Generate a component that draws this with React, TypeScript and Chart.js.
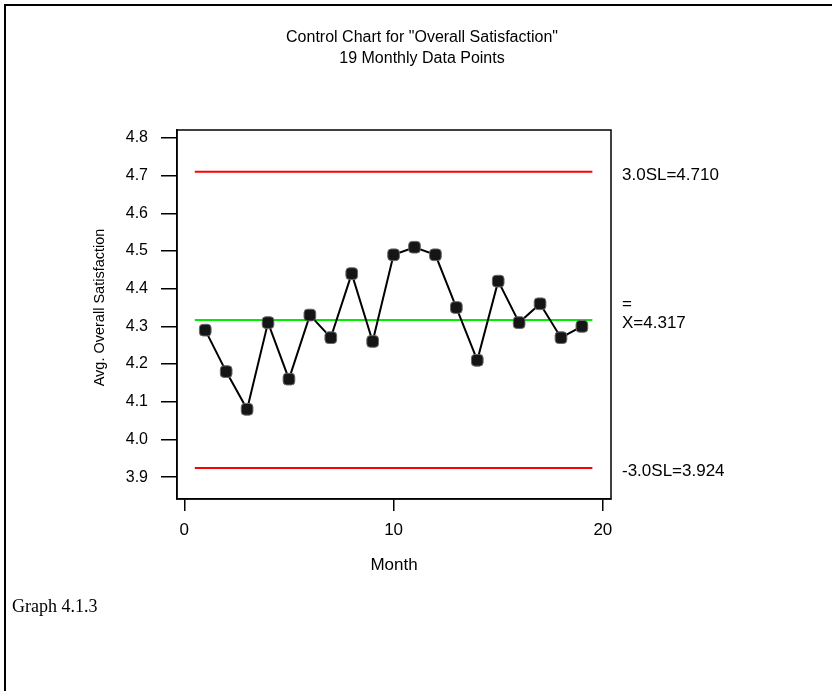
import React, { useEffect, useRef } from "react";
import { Chart, registerables } from "chart.js";

Chart.register(...registerables);

// ---- data ----
const months = [1, 2, 3, 4, 5, 6, 7, 8, 9, 10, 11, 12, 13, 14, 15, 16, 17, 18, 19];
const satisfaction = [4.29, 4.18, 4.08, 4.31, 4.16, 4.33, 4.27, 4.44, 4.26, 4.49, 4.51, 4.49, 4.35, 4.21, 4.42, 4.31, 4.36, 4.27, 4.3];
const upperLimit = 4.71;
const centerLine = 4.317;
const lowerLimit = 3.924;
const limitSpan = [0.5, 19.5];
const xTicks = [0, 10, 20];
const yTicks = [3.9, 4.0, 4.1, 4.2, 4.3, 4.4, 4.5, 4.6, 4.7, 4.8];
const xRange = [-0.35, 20.39];
const yRange = [3.842, 4.821];
const titleLines = ['Control Chart for "Overall Satisfaction"', "19 Monthly Data Points"];
const upperLabel = "3.0SL=4.710";
const centerLabel = "X=4.317";
const lowerLabel = "-3.0SL=3.924";
const xTitle = "Month";
const yTitle = "Avg. Overall Satisfaction";
const caption = "Graph 4.1.3";

const SANS = '"Liberation Sans", Arial, sans-serif';

const limitLine = (v: number) => limitSpan.map((x) => ({ x, y: v }));

const decorations = {
  id: "decorations",
  afterDraw(chart: any) {
    const { ctx, chartArea: a, scales } = chart;
    const y = scales.y;
    ctx.save();
    ctx.strokeStyle = "#000";
    ctx.lineWidth = 1.5;
    ctx.strokeRect(a.left, a.top, a.right - a.left, a.bottom - a.top);
    ctx.fillStyle = "#000";
    ctx.font = "16px " + SANS;
    ctx.textAlign = "center";
    ctx.textBaseline = "middle";
    ctx.fillText(titleLines[0], 422, 38);
    ctx.fillText(titleLines[1], 422, 59);

    // y axis title
    ctx.save();
    ctx.font = "14.5px " + SANS;
    ctx.translate(100, (a.top + a.bottom) / 2 - 7);
    ctx.rotate(-Math.PI / 2);
    ctx.fillText(yTitle, 0, 0);
    ctx.restore();

    ctx.font = "17px " + SANS;
    ctx.textAlign = "left";
    const lx = a.right + 11;
    ctx.fillText(upperLabel, lx, y.getPixelForValue(upperLimit) + 3);
    const cy = y.getPixelForValue(centerLine) + 3;
    ctx.fillText(centerLabel, lx, cy);
    ctx.fillText("=", lx, cy - 19);
    ctx.fillText(lowerLabel, lx, y.getPixelForValue(lowerLimit) + 3);
    ctx.restore();
  },
};

export default function App() {
  const ref = useRef<HTMLCanvasElement>(null);
  useEffect(() => {
    if (!ref.current) return;
    Chart.defaults.font.family = SANS;
    Chart.defaults.color = "#000";
    const chart = new Chart(ref.current, {
      type: "scatter",
      data: {
        datasets: [
          {
            label: "UCL",
            data: limitLine(upperLimit),
            showLine: true,
            borderColor: "#ff0000",
            borderWidth: 2,
            pointRadius: 0,
            order: 3,
          },
          {
            label: "Center",
            data: limitLine(centerLine),
            showLine: true,
            borderColor: "#00ee00",
            borderWidth: 2,
            pointRadius: 0,
            order: 3,
          },
          {
            label: "LCL",
            data: limitLine(lowerLimit),
            showLine: true,
            borderColor: "#ff0000",
            borderWidth: 2,
            pointRadius: 0,
            order: 3,
          },
          {
            label: "Satisfaction",
            data: months.map((m, i) => ({ x: m, y: satisfaction[i] })),
            showLine: true,
            borderColor: "#000",
            borderWidth: 2,
            pointStyle: "rectRounded",
            pointRadius: 6.8,
            pointBackgroundColor: "#151515",
            pointBorderColor: "#6a6a6a",
            pointBorderWidth: 1,
            order: 1,
          },
        ],
      },
      options: {
        responsive: false,
        animation: false,
        devicePixelRatio: 1,
        layout: { padding: { left: 91, right: 221, top: 130, bottom: 115.8 } },
        plugins: { legend: { display: false }, tooltip: { enabled: false }, title: { display: false } },
        scales: {
          x: {
            type: "linear",
            min: xRange[0],
            max: xRange[1],
            afterBuildTicks: (s: any) => {
              s.ticks = xTicks.map((value) => ({ value }));
            },
            afterFit: (s: any) => {
              s.height = 76.2;
            },
            grid: { drawOnChartArea: false, drawTicks: true, tickLength: 12, color: "#000", lineWidth: 1.5 },
            border: { display: true, color: "#000", width: 1.5 },
            ticks: { padding: 9, font: { size: 17 }, color: "#000", maxRotation: 0 },
            title: { display: true, text: xTitle, font: { size: 17 }, color: "#000", padding: 0 },
          },
          y: {
            type: "linear",
            min: yRange[0],
            max: yRange[1],
            afterBuildTicks: (s: any) => {
              s.ticks = yTicks.map((value) => ({ value }));
            },
            afterFit: (s: any) => {
              s.width = 86;
            },
            grid: { drawOnChartArea: false, drawTicks: true, tickLength: 16, color: "#000", lineWidth: 1.5 },
            border: { display: true, color: "#000", width: 1.5 },
            ticks: {
              padding: 13,
              font: { size: 16 },
              color: "#000",
              callback: (v: any) => Number(v).toFixed(1),
            },
            title: { display: false, text: yTitle },
          },
        },
      },
      plugins: [decorations],
    });
    return () => chart.destroy();
  }, []);

  return (
    <div style={{ position: "absolute", left: 0, top: 0, width: 832, height: 691, background: "#fff", overflow: "hidden" }}>
      <div
        style={{
          position: "absolute",
          left: 4,
          top: 4,
          width: 840,
          height: 700,
          borderTop: "2px solid #000",
          borderLeft: "2px solid #000",
        }}
      />
      <canvas ref={ref} width={832} height={691} style={{ position: "absolute", left: 0, top: 0, width: 832, height: 691 }} />
      <div
        style={{
          position: "absolute",
          left: 12,
          top: 596,
          fontFamily: '"Liberation Serif", "Times New Roman", serif',
          fontSize: 18,
          color: "#000",
          whiteSpace: "nowrap",
        }}
      >
        {caption}
      </div>
    </div>
  );
}
